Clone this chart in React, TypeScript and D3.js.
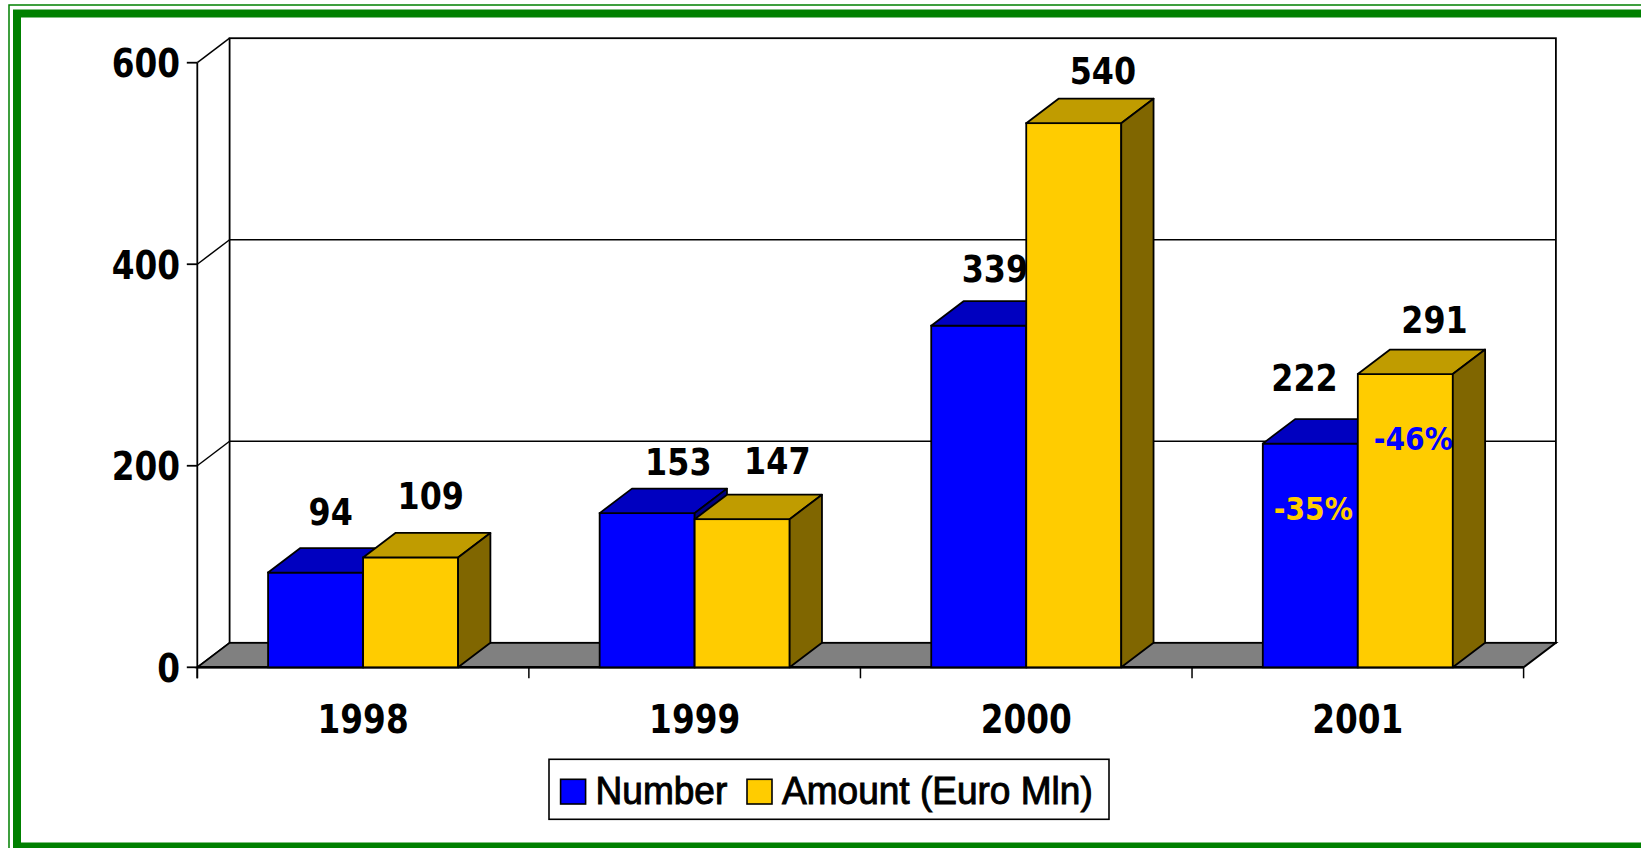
import * as d3 from "d3";

// data
const years = ["1998", "1999", "2000", "2001"];
const seriesNames = ["Number", "Amount (Euro Mln)"];
const numberValues = [94, 153, 339, 222];
const amountValues = [109, 147, 540, 291];
const yTicks = [0, 200, 400, 600];
// change 2001 vs 2000, written inside the 2001 bars
const changeLabels = ["-35%", "-46%"];

// small hand nudges of the value labels (they were dragged around in the original)
const numberLabelShift = [[-1, -3], [15, 6], [0, 1], [-22, -8]];
const amountLabelShift = [[4, -4], [19, -1], [13, 5], [13, 3]];

const W = 1641;
const H = 848;
const DX = 32.3; // 3d depth offsets
const DY = 24.5;

const faceColors = [
  { front: "#0000FF", top: "#0000C0", side: "#000080" },
  { front: "#FFCC00", top: "#C09C00", side: "#806600" },
];

const BOLD = "'DejaVu Sans', Verdana, sans-serif";
const LEGEND_FONT = "'Liberation Sans', Arial, sans-serif";

// squeezed text, the original fonts are narrower than DejaVu
const SqText = (p: { x: number; y: number; sx?: number; size: number; anchor?: string; fill?: string; weight?: string; children: any }) => (
  <text
    transform={`translate(${p.x},${p.y}) scale(${p.sx ?? 0.84},1)`}
    fontFamily={BOLD}
    fontWeight={p.weight ?? "bold"}
    fontSize={p.size}
    textAnchor={p.anchor ?? "middle"}
    fill={p.fill ?? "#000"}
  >
    {p.children}
  </text>
);

const App = () => {
  const x = d3.scaleBand().domain(years).range([197.3, 1523.6]).padding(0);
  const xi = d3.scaleBand().domain(seriesNames).range([0, x.bandwidth()]).paddingInner(0).paddingOuter(0.745);
  const y = d3.scaleLinear().domain([0, 600]).range([667.3, 62.7]);

  const [left, right] = x.range();
  const y0 = y(0);
  const yMax = y(600);
  const series = [numberValues, amountValues];
  const shifts = [numberLabelShift, amountLabelShift];
  const bw = xi.bandwidth();

  const bars: any[] = [];
  const labels: any[] = [];
  years.forEach((yr, i) => {
    seriesNames.forEach((s, j) => {
      const v = series[j][i];
      const bx = (x(yr) as number) + (xi(s) as number);
      const by = y(v);
      const c = faceColors[j];
      bars.push(
        <g key={yr + s}>
          <rect x={bx} y={by} width={bw} height={y0 - by} fill={c.front} stroke="#000" strokeWidth={1.8} />
          <polygon
            points={`${bx},${by} ${bx + DX},${by - DY} ${bx + bw + DX},${by - DY} ${bx + bw},${by}`}
            fill={c.top} stroke="#000" strokeWidth={1.8} strokeLinejoin="round"
          />
          <polygon
            points={`${bx + bw},${by} ${bx + bw + DX},${by - DY} ${bx + bw + DX},${y0 - DY} ${bx + bw},${y0}`}
            fill={c.side} stroke="#000" strokeWidth={1.8} strokeLinejoin="round"
          />
        </g>
      );
      const [nx, ny] = shifts[j][i];
      labels.push(
        <SqText key={"l" + yr + s} x={bx + bw / 2 + DX / 2 + nx} y={by - DY - 20 + ny} size={37} sx={0.86}>
          {d3.format("d")(v)}
        </SqText>
      );
    });
  });

  // change labels inside the last year's bars
  const last = years[years.length - 1];
  const changeColors = [faceColors[1].front, faceColors[0].front];
  const changeShift = [3, 8];
  changeLabels.forEach((t, j) => {
    const bx = (x(last) as number) + (xi(seriesNames[j]) as number);
    labels.push(
      <SqText key={"c" + j} x={bx + bw / 2 + changeShift[j]} y={y(series[j][years.length - 1]) + 76} size={32} sx={0.88} fill={changeColors[j]}>
        {t}
      </SqText>
    );
  });

  return (
    <svg width={W} height={H} style={{ position: "absolute", left: 0, top: 0, background: "#fff" }}>
      {/* green frame, runs off the right and bottom edges */}
      <rect x={9} y={5} width={W + 20} height={H + 20} fill="none" stroke="#008000" strokeWidth={1.5} />
      <rect x={17} y={13.5} width={W + 20} height={833} fill="none" stroke="#008000" strokeWidth={8} />

      {/* back wall */}
      <rect x={left + DX} y={yMax - DY} width={right - left} height={y0 - yMax} fill="#fff" stroke="#000" strokeWidth={1.8} />
      {yTicks.filter((t) => t > 0 && t < 600).map((t) => (
        <line key={"g" + t} x1={left + DX} x2={right + DX} y1={y(t) - DY} y2={y(t) - DY} stroke="#000" strokeWidth={1.5} />
      ))}
      {/* side wall diagonals */}
      {yTicks.map((t) => (
        <line key={"d" + t} x1={left} y1={y(t)} x2={left + DX} y2={y(t) - DY} stroke="#000" strokeWidth={1.5} />
      ))}
      <line x1={left} x2={left} y1={yMax} y2={y0 + 11} stroke="#000" strokeWidth={1.8} />

      {/* floor */}
      <polygon
        points={`${left},${y0} ${right},${y0} ${right + DX},${y0 - DY} ${left + DX},${y0 - DY}`}
        fill="#808080" stroke="#000" strokeWidth={1.8}
      />
      <line x1={left} x2={right} y1={y0} y2={y0} stroke="#000" strokeWidth={2.6} />

      {/* ticks */}
      {yTicks.map((t) => (
        <line key={"yt" + t} x1={left - 10.5} x2={left} y1={y(t)} y2={y(t)} stroke="#000" strokeWidth={1.8} />
      ))}
      {[...years.map((yr) => x(yr) as number), right].map((px, k) => (
        <line key={"xt" + k} x1={px} x2={px} y1={y0} y2={y0 + 11} stroke="#000" strokeWidth={1.5} />
      ))}

      {bars}
      {labels}

      {/* axis labels */}
      {yTicks.map((t) => (
        <SqText key={"yl" + t} x={180} y={y(t) + 14.5} size={39} anchor="end">
          {t}
        </SqText>
      ))}
      {years.map((yr) => (
        <SqText key={"xl" + yr} x={(x(yr) as number) + x.bandwidth() / 2} y={733} size={39}>
          {yr}
        </SqText>
      ))}

      {/* legend */}
      <rect x={549} y={759.3} width={560} height={60} fill="#fff" stroke="#000" strokeWidth={1.6} />
      {seriesNames.map((s, j) => {
        const sx = [560.6, 747][j];
        return (
          <g key={"lg" + s}>
            <rect x={sx} y={779.3} width={25} height={24.7} fill={faceColors[j].front} stroke="#000" strokeWidth={1.6} />
            <text
              transform={`translate(${sx + 35},803.5) scale(0.95,1)`}
              fontFamily={LEGEND_FONT} fontSize={39} fill="#000" stroke="#000" strokeWidth={1}
            >
              {s}
            </text>
          </g>
        );
      })}
    </svg>
  );
};

export default App;
